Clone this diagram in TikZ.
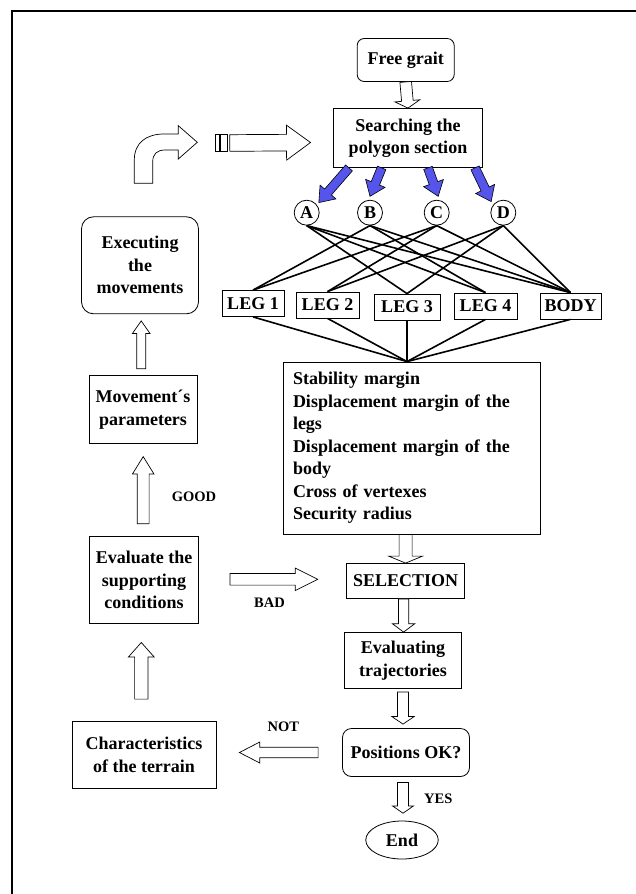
\documentclass[tikz,border=0pt]{standalone}
\usepackage{fontspec}
\setmainfont{Liberation Serif}
\usetikzlibrary{calc, positioning, shapes.geometric}
\definecolor{arrowblue}{RGB}{85,85,235}
\newcommand{\boxfont}{\fontsize{18}{22.5}\selectfont\bfseries}
\newcommand{\tagfont}{\fontsize{14.5}{17}\selectfont\bfseries}
% outlined block arrow: [style]{from}{to}{half shaft}{half head}{head length}
\newcommand{\blockarrow}[6][]{%
  \path (#2) coordinate (ba-s) (#3) coordinate (ba-e);
  \path ($(ba-e)!#6!(ba-s)$) coordinate (ba-h);
  \draw[#1] ($(ba-s)!#4!90:(ba-e)$) -- ($(ba-h)!#4!-90:(ba-s)$) -- ($(ba-h)!#5!-90:(ba-s)$)
    -- (ba-e) -- ($(ba-h)!#5!90:(ba-s)$) -- ($(ba-h)!#4!90:(ba-s)$) -- ($(ba-s)!#4!-90:(ba-e)$) -- cycle;
}

\begin{document}
\begin{tikzpicture}[x=1pt, y=-1pt,
  box/.style={draw, line width=0.8pt, font=\boxfont, align=center, inner sep=1pt},
  roundbox/.style={box, rounded corners=#1},
  legbox/.style={box, minimum height=26},
  letter/.style={draw, circle, line width=0.8pt, font=\boxfont, minimum size=25, inner sep=0pt},
  tag/.style={font=\tagfont, inner sep=0pt},
  link/.style={line width=1.6pt},
  hollow/.style={draw, fill=white, line width=0.7pt},
  bluearrow/.style={draw, fill=arrowblue, line width=0.6pt}]
  \useasboundingbox (0,0) rectangle (636,894);
  \draw[line width=2pt] (12,894) -- (12,11) -- (636,11);

  \node[roundbox=7pt, minimum width=97, minimum height=43] (free) at (405.7,60) {Free grait};
  \node[box, minimum width=149, minimum height=59] (search) at (408,138) {Searching the\\polygon section};
  \foreach \n/\x in {A/306.7, B/370, C/436.7, D/503.3}
    \node[letter] (\n) at (\x,212.7) {\n};
  \foreach \n/\t/\x/\y/\w in {leg1/LEG 1/253/303.5/62, leg2/LEG 2/327.5/305/63, leg3/LEG 3/407/307/66,
      leg4/LEG 4/485.5/306/63, body/BODY/570.5/306/61}
    \node[legbox, minimum width=\w] (\n) at (\x,\y) {\t};
  \node[box, minimum width=257, minimum height=172, text width=237, align=left, inner xsep=10pt] (param)
    at (411.5,448) {Stability margin\\Displacement margin of the\\legs\\Displacement margin of the\\body\\Cross of vertexes\\Security radius};
  \node[box, minimum width=118, minimum height=35] (select) at (405.6,581) {SELECTION};
  \node[box, minimum width=117, minimum height=56] (traj) at (403,660.5) {Evaluating\\trajectories};
  \node[roundbox=9pt, minimum width=127, minimum height=48] (posok) at (406,752.5) {Positions OK?};
  \node[box, ellipse, minimum width=72.5, minimum height=38] (stop) at (402,840) {End};
  \node[box, minimum width=144, minimum height=67] (terrain) at (144,754.7) {Characteristics\\of the terrain};
  \node[box, minimum width=109, minimum height=87] (evalsup) at (144,580.3) {Evaluate the\\supporting\\conditions};
  \node[box, minimum width=108, minimum height=68] (moveparam) at (143,409.5) {Movement´s\\parameters};
  \node[roundbox=12pt, minimum width=117, minimum height=97] (exec) at (140,265.3) {Executing\\the\\movements};

  \node[tag] (good) at (194,496.7) {GOOD};
  \node[tag] (bad) at (269.5,602.3) {BAD};
  \node[tag] (nolbl) at (283.3,726.7) {NOT};
  \node[tag, anchor=west] (yes) at (424,798.3) {YES};

  % combinations
  \foreach \c/\l in {A/leg3, A/leg4, A/body, B/leg1, B/leg4, B/body, C/leg1, C/leg2, C/body, D/leg2, D/leg3, D/body}
    \draw[link] (\c.south) -- (\l.north);
  \coordinate (hub) at (leg3.south |- param.north);
  \foreach \l in {leg1, leg2, leg3, leg4, body}
    \draw[link] (\l.south) -- (hub);

  \blockarrow[bluearrow]{$(search.south)+(-59,0)$}{$(A.north east)+(3,-1)$}{4.5pt}{10.5pt}{14pt}
  \blockarrow[bluearrow]{$(search.south)+(-26.3,0)$}{$(B.north)+(0,-3.5)$}{4.5pt}{10.5pt}{14pt}
  \blockarrow[bluearrow]{$(search.south)+(20,0)$}{$(C.north)+(1.5,-3.5)$}{4.5pt}{10.5pt}{14pt}
  \blockarrow[bluearrow]{$(search.south)+(67,0)$}{$(D.north west)+(-3,-2)$}{4.5pt}{10.5pt}{14pt}

  % flow arrows
  \blockarrow[hollow]{free.south}{search.north}{5.8pt}{12.5pt}{7.3pt}
  \blockarrow[hollow]{select.north |- param.south}{select.north}{6.5pt}{17pt}{7pt}
  \blockarrow[hollow]{$(select.south)+(-2,0)$}{$(select.south |- traj.north)+(-2,0)$}{5.2pt}{11.2pt}{8.4pt}
  \blockarrow[hollow]{$(traj.south)+(0,3)$}{$(traj.south |- posok.north)+(0,-4)$}{5.5pt}{11.2pt}{7.6pt}
  \blockarrow[hollow]{$(stop.north |- posok.south)+(1,5.6)$}{$(stop.north)+(1,-7.4)$}{5.5pt}{10.5pt}{7.3pt}
  \blockarrow[hollow]{$(posok.west)+(-24,0)$}{$(terrain.east |- posok.west)+(23,0)$}{5.3pt}{10.5pt}{20.4pt}
  \blockarrow[hollow]{$(terrain.north)+(-2.7,-21.7)$}{$(evalsup.south)+(-2.7,18.3)$}{6.7pt}{12.8pt}{14.4pt}
  \blockarrow[hollow]{$(evalsup.east)+(31,-1)$}{$(select.west)+(-28.5,-1.7)$}{5.8pt}{11.2pt}{22.4pt}
  \blockarrow[hollow]{$(evalsup.north)+(-0.8,-12.7)$}{$(moveparam.south)+(0.2,12.7)$}{5.9pt}{10.7pt}{17.3pt}
  \blockarrow[hollow]{$(moveparam.north)+(-1.8,-6.4)$}{$(exec.south)+(1.2,6.7)$}{4.5pt}{8.8pt}{12.6pt}

  % back to the search
  \draw[hollow] (134.3,183.3) -- (134.3,160) .. controls (134.3,143) and (146,134) .. (164,134) -- (178.3,134)
    -- (178.3,125.7) -- (197.3,142.3) -- (178.3,159) -- (178.3,150) -- (165,150)
    .. controls (157,150) and (152.7,154) .. (152.7,162) -- (152.7,183.3) -- cycle;
  \coordinate (stripetip) at ($(search.west)+(-22.6,4.5)$);
  \draw[hollow] (215,134.7) rectangle (219,151.3);
  \draw[hollow] (220.7,134.7) rectangle (227.3,151.3);
  \blockarrow[hollow]{$(stripetip)+(-80.7,0.5)$}{stripetip}{8.3pt}{17.5pt}{24pt}
\end{tikzpicture}
\end{document}
